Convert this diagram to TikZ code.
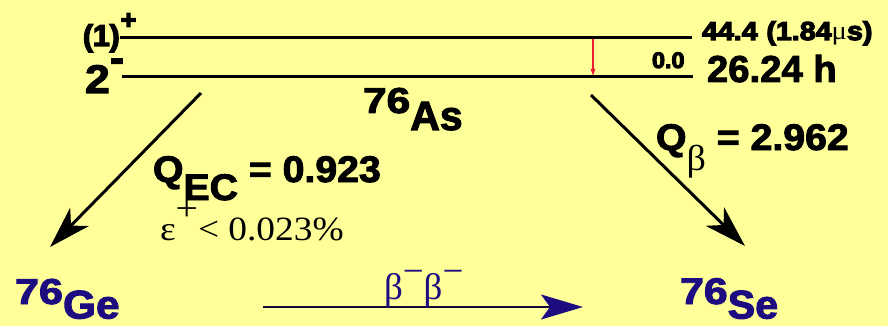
\documentclass[tikz,border=0pt]{standalone}
\usepackage{fontspec}
\usepackage{graphicx}
\setmainfont{Liberation Sans}
\newfontfamily\hv{Liberation Sans}[UprightFont={* Bold}, FakeBold=2.5]
\newfontfamily\hvs{Liberation Sans}[UprightFont={* Bold}, FakeBold=4.5]
\newfontfamily\serifrm{Liberation Serif}
\usetikzlibrary{arrows.meta}
\definecolor{bgyellow}{RGB}{255,255,153}
\definecolor{deepblue}{RGB}{28,12,128}
\definecolor{shaftcol}{RGB}{20,10,60}
\definecolor{gred}{RGB}{235,30,50}
\newcommand{\fsz}[1]{\fontsize{#1}{#1}\selectfont}
\newcommand{\hsc}[2]{\scalebox{#1}[1]{#2}}
\tikzset{
  txt/.style={anchor=base west, inner sep=0pt, outer sep=0pt, font=\hv},
  smalltxt/.style={anchor=base west, inner sep=0pt, outer sep=0pt, font=\hvs},
  stxt/.style={anchor=base west, inner sep=0pt, outer sep=0pt, font=\serifrm\mdseries},
  level/.style={line width=3pt},
  decay/.style={line width=3pt, -{Stealth[length=42pt,width=26pt,inset=12pt]}},
  gammaarrow/.style={draw=gred, line width=1.1pt, -{Stealth[length=7pt,width=5pt,inset=1.5pt]}},
  bbarrow/.style={draw=shaftcol, line width=2pt, -{Stealth[length=42pt,width=25pt,inset=9pt,fill=deepblue,color=deepblue]}}
}
\begin{document}
\begin{tikzpicture}[x=1pt,y=-1pt]
\path[fill=bgyellow] (0,0) rectangle (888,326);
\useasboundingbox (0,0) rectangle (888,326);

% levels
\coordinate (t1) at (120,38);
\coordinate (t2) at (692,38);
\coordinate (g1) at (122,77);
\coordinate (g2) at (693,77);
\draw[level] (t1) -- (t2);
\draw[level] (g1) -- (g2);

% spin labels
\node[smalltxt] (j1) at (83,46) {\fsz{30}(1)\kern1pt\raisebox{17pt}{\fsz{27}+}};
\node[txt] (j2) at (85,93) {\hsc{1.12}{\fsz{40}2}\raisebox{21pt}{\fsz{42}-}};

% energies
\node[smalltxt] (e1) at (702,40) {\hsc{1.1}{\fsz{26}44.4\hspace{8pt}(1.84{\serifrm\mdseries μ}s)}};
\node[smalltxt] (e0) at (652,68) {\hsc{1.04}{\fsz{22.5}0.0}};
\node[txt] (hl) at (707,82) {\hsc{1.02}{\fsz{37.5}26.24 h}};

% gamma
\coordinate (r1) at (593,39.5);
\coordinate (r2) at (593,75.5);
\draw[gammaarrow] (r1) -- (r2);

% parent
\node[txt] (as) at (363,113) {\hsc{1.18}{\fsz{36}76}\raisebox{-17pt}{\fsz{41}As}};

% decay arrows
\coordinate (a1) at (201,93);
\coordinate (a2) at (50,247);
\coordinate (b1) at (591,95);
\coordinate (b2) at (745,246);
\draw[decay] (a1) -- (a2);
\draw[decay] (b1) -- (b2);

% Q values
\node[txt] (qec) at (153,182) {\hsc{1.06}{\fsz{37}Q\raisebox{-18pt}{EC} = 0.923}};
\node[stxt] (eps) at (160,240) {\hsc{1.1}{\fsz{34}ε\raisebox{20pt}{\fsz{36}+}< 0.023\%}};
\node[txt] (qb) at (656,150) {\hsc{1.06}{\fsz{37}Q\raisebox{-20pt}{\serifrm\mdseries\fsz{36}β} = 2.962}};

% daughters
\node[txt, text=deepblue] (ge) at (15,304) {\hsc{1.2}{\fsz{36}76}\raisebox{-14.5pt}[14pt][2pt]{\hsc{1.06}{\fsz{40}Ge}}};
\node[txt, text=deepblue] (se) at (680,304) {\hsc{1.16}{\fsz{37}76}\raisebox{-14.5pt}[14pt][2pt]{\hsc{1.03}{\fsz{40}Se}}};

% double beta
\coordinate (c1) at (263,307);
\coordinate (c2) at (583,307);
\draw[bbarrow] (c1) -- (c2);
\node[stxt, text=deepblue] (bb) at (384,299) {\fsz{37}β\raisebox{16pt}{−}β\raisebox{16pt}{−}};
\end{tikzpicture}
\end{document}
